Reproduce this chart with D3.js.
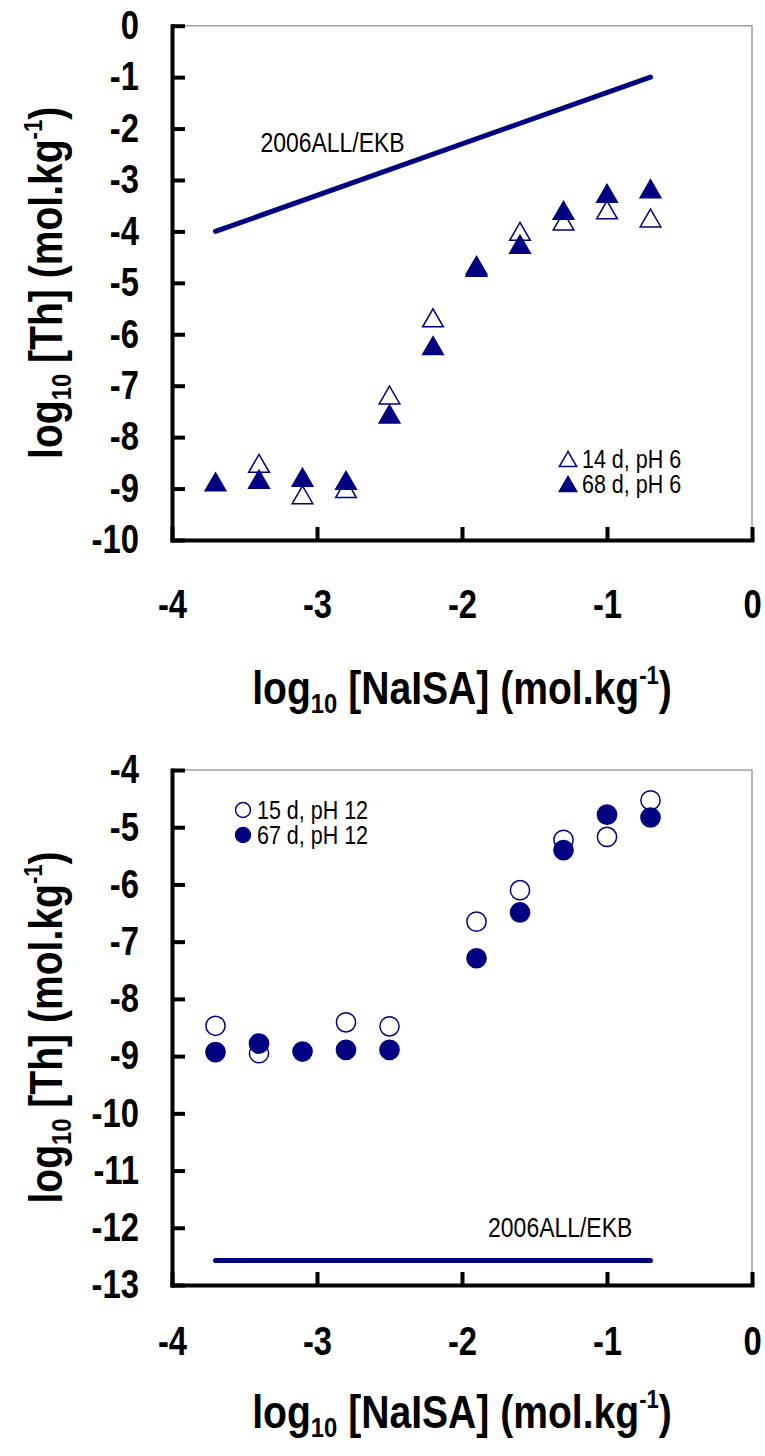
<!DOCTYPE html>
<html>
<head>
<meta charset="utf-8">
<script src="https://cdn.jsdelivr.net/npm/d3@7"></script>
<style>
  body { margin: 0; background: #fff; }
  svg text { font-family: 'Liberation Sans', Arial, sans-serif; }
</style>
</head>
<body>
<script>
// values
const naisaAcid = [-3.7, -3.4, -3.1, -2.8, -2.5, -2.2, -1.9, -1.6, -1.3, -1.0, -0.7]
const th14d = [null, -8.51, -9.12, -9.0, -7.18, -5.68, -4.66, -4.0, -3.8, -3.58, -3.74]
const th68d = [-8.87, -8.82, -8.78, -8.84, -7.55, -6.22, -4.70, -4.25, -3.59, -3.26, -3.17]

const naisaAlk = [-3.7, -3.4, -3.1, -2.8, -2.5, -1.9, -1.6, -1.3, -1.0, -0.7]
const th15d = [-8.47, -8.95, null, -8.41, -8.48, -6.65, -6.10, -5.22, -5.17, -4.53]
const th67d = [-8.93, -8.78, -8.92, -8.89, -8.89, -7.29, -6.49, -5.40, -4.78, -4.83]

// 2006ALL/EKB model lines
const ekbX = [-3.7, -0.7]
const ekbAcid = [-4, -1]
const ekbAlk = [-12.57, -12.57]

const xTicks = [-4, -3, -2, -1, 0]
const yTicksTop = [0, -1, -2, -3, -4, -5, -6, -7, -8, -9, -10]
const yTicksBottom = [-4, -5, -6, -7, -8, -9, -10, -11, -12, -13]

const width = 765
const height = 1456
const navy = '#000080'

const svg = d3.select('body').append('svg')
  .attr('width', width)
  .attr('height', height)

const x = d3.scaleLinear().domain([-4, 0]).range([172, 752])

const triangle = d3.symbol().type(d3.symbolTriangle)
const circle = d3.symbol().type(d3.symbolCircle)

// no narrow font installed, so squeeze Liberation Sans sideways
function squeeze(sel, k) {
  sel.each(function() {
    const t = d3.select(this)
    const x0 = +t.attr('x') || 0
    const prev = t.attr('transform') || ''
    t.attr('transform', `${prev} translate(${x0 * (1 - k)},0) scale(${k},1)`)
  })
}

// d3 triangles sit on their centroid, shift them so the box is centred
function triShift(size) {
  return Math.sqrt(size / (Math.sqrt(3) * 3)) / 2
}

function marker(sel, shape, size, filled) {
  const dy = shape === 'tri' ? triShift(size) : 0
  sel.attr('d', (shape === 'tri' ? triangle : circle).size(size)())
    .attr('fill', filled ? navy : '#fff')
    .attr('stroke', navy)
    .attr('stroke-width', 1.5)
    .attr('data-dy', dy)
}

function title(g, main, k) {
  g.attr('font-size', 46).attr('font-weight', 'bold').attr('text-anchor', 'middle')
  g.append('tspan').text('log')
  g.append('tspan').attr('font-size', 28).attr('dy', 9).text('10')
  g.append('tspan').attr('dy', -9).text(main)
  g.append('tspan').attr('font-size', 26).attr('dy', -20).text('-1')
  g.append('tspan').attr('dy', 20).text(')')
  squeeze(g, k)
}

function drawPanel(p) {
  const y = d3.scaleLinear().domain(p.yDomain).range([p.bottom, p.top])
  const g = svg.append('g')

  // thin grey frame top and right
  g.append('path')
    .attr('d', `M${x(-4)},${p.top}H${x(0)}V${p.bottom}`)
    .attr('fill', 'none')
    .attr('stroke', '#a0a0a0')
    .attr('stroke-width', 1.5)

  const ya = g.append('g')
    .attr('transform', `translate(${x(-4)},0)`)
    .call(d3.axisLeft(y).tickValues(p.yTicks).tickFormat(d => d)
      .tickSizeInner(-13).tickSizeOuter(0).tickPadding(33))
  const xa = g.append('g')
    .attr('transform', `translate(0,${p.bottom})`)
    .call(d3.axisBottom(x).tickValues(xTicks).tickFormat(d => d)
      .tickSizeInner(-13).tickSizeOuter(0).tickPadding(p.xPad))

  ;[ya, xa].forEach(a => {
    a.select('.domain').attr('stroke', '#000').attr('stroke-width', 4).attr('stroke-linecap', 'square')
    a.selectAll('.tick line').attr('stroke', '#000').attr('stroke-width', 4)
    a.selectAll('.tick text')
      .attr('fill', '#000')
      .attr('font-size', 40)
      .attr('font-weight', 'bold')
      .call(squeeze, 0.82)
  })

  // model line
  const line = d3.line().x(d => x(d[0])).y(d => y(d[1]))
  g.append('path')
    .datum(d3.zip(ekbX, p.ekb))
    .attr('d', line)
    .attr('fill', 'none')
    .attr('stroke', navy)
    .attr('stroke-width', 5)
    .attr('stroke-linecap', 'round')

  g.append('text')
    .attr('x', x(p.note[0]))
    .attr('y', y(p.note[1]))
    .attr('font-size', 28)
    .text('2006ALL/EKB')
    .call(squeeze, 0.82)

  // open series first, filled on top
  p.series.forEach(s => {
    const pts = d3.zip(p.xs, s.values).filter(d => d[1] !== null)
    g.append('g').selectAll('path')
      .data(pts)
      .join('path')
      .call(marker, p.shape, p.size, s.filled)
      .attr('transform', function(d) {
        return `translate(${x(d[0])},${y(d[1]) + +this.getAttribute('data-dy')})`
      })
  })

  // legend
  const lg = g.append('g').attr('transform', `translate(${p.legend[0]},${p.legend[1]})`)
  p.series.forEach((s, i) => {
    const row = lg.append('g').attr('transform', `translate(0,${i * 25})`)
    row.append('path')
      .call(marker, p.shape, p.legendSize, s.filled)
      .attr('transform', function() { return `translate(0,${+this.getAttribute('data-dy')})` })
    row.append('text')
      .attr('x', 14)
      .attr('y', 9)
      .attr('font-size', 25)
      .text(s.label)
      .call(squeeze, 0.86)
  })

  // axis titles
  g.append('text')
    .attr('x', (x(-4) + x(0)) / 2)
    .attr('y', p.bottom + p.titleGap)
    .call(title, ' [NaISA] (mol.kg', 0.85)

  const cy = (p.top + p.bottom) / 2
  g.append('text')
    .attr('transform', `translate(62,${cy}) rotate(-90)`)
    .call(title, ' [Th] (mol.kg', 0.85)
}

drawPanel({
  top: 25.7,
  bottom: 540,
  yDomain: [-10, 0],
  yTicks: yTicksTop,
  xPad: 50,
  titleGap: 164,
  xs: naisaAcid,
  ekb: ekbAcid,
  note: [-3.39, -2.46],
  shape: 'tri',
  size: 185,
  legendSize: 130,
  legend: [568, 459],
  series: [
    { label: '14 d, pH 6', values: th14d, filled: false },
    { label: '68 d, pH 6', values: th68d, filled: true }
  ]
})

drawPanel({
  top: 770,
  bottom: 1285,
  yDomain: [-13, -4],
  yTicks: yTicksBottom,
  xPad: 42,
  titleGap: 143,
  xs: naisaAlk,
  ekb: ekbAlk,
  note: [-1.82, -12.17],
  shape: 'circ',
  size: 290,
  legendSize: 175,
  legend: [243, 810],
  series: [
    { label: '15 d, pH 12', values: th15d, filled: false },
    { label: '67 d, pH 12', values: th67d, filled: true }
  ]
})
</script>
</body>
</html>
